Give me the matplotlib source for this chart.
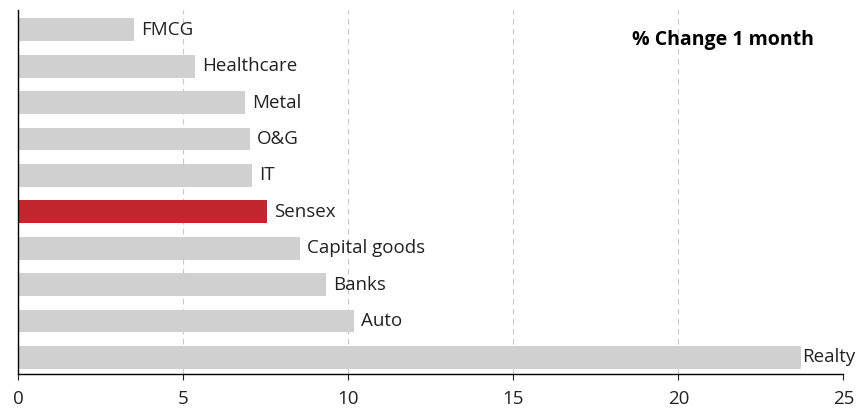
import matplotlib.pyplot as plt

plt.rcParams['font.family'] = ['Open Sans', 'DejaVu Sans']

sectors = ['Realty', 'Auto', 'Banks', 'Capital goods', 'Sensex',
           'IT', 'O&G', 'Metal', 'Healthcare', 'FMCG']
change_1m = [23.72, 10.17, 9.32, 8.54, 7.54, 7.08, 7.02, 6.87, 5.35, 3.51]
highlight = 'Sensex'

grey = '#d0d0d0'
red = '#c1272d'

fig = plt.figure(figsize=(8.58, 4.08), dpi=100)
ax = fig.add_axes([0.0213, 0.084, 0.9617, 0.891])

colors = [red if s == highlight else grey for s in sectors]
ypos = range(len(sectors))
ax.barh(ypos, change_1m, height=0.63, color=colors, zorder=2)

for y, v, s in zip(ypos, change_1m, sectors):
    off = 1.0 if s == 'Realty' else 5
    ax.annotate(s, (v, y), xytext=(off, 0), textcoords='offset points',
                ha='left', va='center', fontsize=13.5, color='#222222')

ax.set_xlim(0, 25)
ax.set_ylim(-0.45, 9.54)
ax.set_xticks([0, 5, 10, 15, 20, 25])
ax.set_yticks([])
ax.tick_params(axis='x', direction='out', length=4, width=0.8,
               labelsize=13.5, pad=7.5, colors='#222222')
ax.grid(axis='x', color='#c8c8c8', linestyle=(0, (5, 4)), linewidth=0.8, zorder=0)

for side in ['top', 'right']:
    ax.spines[side].set_visible(False)
ax.spines['left'].set_linewidth(1.0)
ax.spines['bottom'].set_linewidth(1.0)

ax.text(0.9645, 0.9175, '% Change 1 month', transform=ax.transAxes,
        ha='right', va='center', fontsize=14, fontweight='bold')

fig.savefig('out.png', dpi=100)
